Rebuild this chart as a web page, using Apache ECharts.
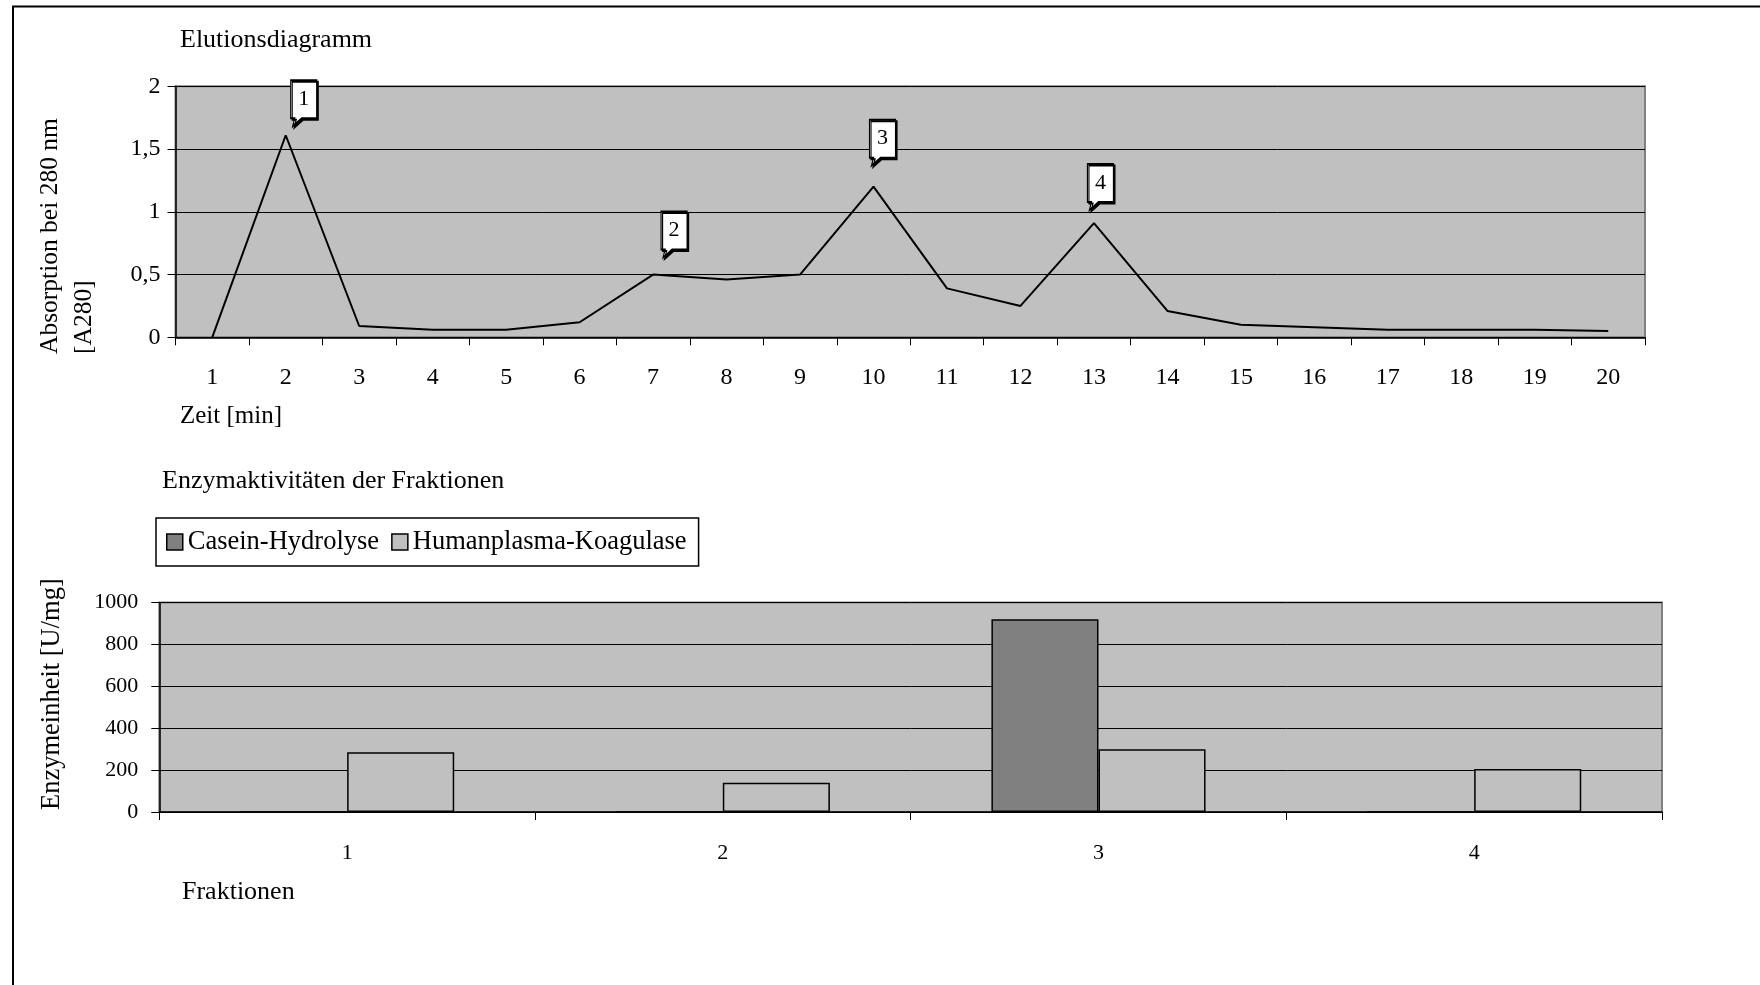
<!DOCTYPE html>
<html>
<head>
<meta charset="utf-8">
<title>Elutionsdiagramm</title>
<script src="https://cdn.jsdelivr.net/npm/echarts@6/dist/echarts.min.js"></script>
<style>
  html, body { margin: 0; padding: 0; background: #fff; }
  #chart { width: 1760px; height: 985px; }
</style>
</head>
<body>
<div id="chart"></div>
<script>
// Elution profile: time axis (min) and absorption at 280 nm
const times = ['1', '2', '3', '4', '5', '6', '7', '8', '9', '10',
               '11', '12', '13', '14', '15', '16', '17', '18', '19', '20'];
const absorption = [0, 1.61, 0.09, 0.06, 0.06, 0.12, 0.5, 0.46, 0.5, 1.2,
                    0.39, 0.25, 0.91, 0.21, 0.1, 0.08, 0.06, 0.06, 0.06, 0.05];

// Numbered peaks (collected fractions) and the time at which each peaks
const peakLabels = ['1', '2', '3', '4'];
const peakTimes = ['2', '7', '10', '13'];

// Enzyme activities per fraction
const fractions = ['1', '2', '3', '4'];
const caseinHydrolyse = [0, 0, 920, 0];
const humanplasmaKoagulase = [285, 140, 300, 205];

const seriesNames = ['Casein-Hydrolyse', 'Humanplasma-Koagulase'];

// Pixel offsets of the callout boxes from their peaks
const calloutOffsets = [[18, -32], [21, -40], [9, -44], [6.5, -36]];

const FONT = '"Liberation Serif", "Times New Roman", serif';
const decimalComma = v => String(v).replace('.', ',');

// Speech-bubble outline: box with a small tail at the lower left
const calloutPath = 'path://M0,0L26,0L26,38L11,38L2,46L4,38L0,38Z';

const peakMarks = peakLabels.map((label, i) => {
  const idx = times.indexOf(peakTimes[i]);
  return {
    name: label,
    value: label,
    coord: [idx, absorption[idx]],
    symbolOffset: calloutOffsets[i]
  };
});

function freeText(text, x, y, size, rotate, lineHeight) {
  return {
    type: 'text',
    x: x,
    y: y,
    rotation: rotate ? Math.PI / 2 : 0,
    z: 10,
    style: {
      text: text,
      fill: '#000',
      fontSize: size,
      fontFamily: FONT,
      lineHeight: lineHeight || size + 4,
      align: 'left',
      verticalAlign: 'middle'
    }
  };
}

const chart = echarts.init(document.getElementById('chart'), null, { renderer: 'canvas' });

const option = {
  backgroundColor: '#ffffff',
  animation: false,
  textStyle: { fontFamily: FONT, color: '#000' },
  graphic: [
    {
      type: 'rect',
      z: -10,
      shape: { x: 13, y: 6.5, width: 1800, height: 1100 },
      style: { fill: 'none', stroke: '#000', lineWidth: 2 }
    },
    freeText('Elutionsdiagramm', 180, 40, 26),
    freeText('Absorption bei 280 nm\n[A280]', 67, 354, 25.5, true, 34),
    freeText('Zeit [min]', 180, 416, 25),
    freeText('Enzymaktivitäten der Fraktionen', 162, 481, 26),
    freeText('Enzymeinheit [U/mg]', 52, 810, 26.5, true),
    freeText('Fraktionen', 182, 892, 26)
  ],
  legend: {
    data: seriesNames,
    left: 156,
    top: 518,
    orient: 'horizontal',
    backgroundColor: '#ffffff',
    borderColor: '#000',
    borderWidth: 1.5,
    borderRadius: 0,
    padding: [10, 12, 10, 10],
    itemWidth: 16,
    itemHeight: 16,
    itemGap: 12,
    icon: 'rect',
    itemStyle: { borderColor: '#000', borderWidth: 1.5 },
    textStyle: { fontSize: 26.5, fontFamily: FONT, color: '#000', lineHeight: 28 }
  },
  grid: [
    {
      left: 175.5, top: 86.3, width: 1645 - 175.5, height: 251,
      show: true, backgroundColor: '#C0C0C0', borderColor: '#808080', borderWidth: 2,
      containLabel: false
    },
    {
      left: 159.3, top: 602.5, width: 1662 - 159.3, height: 209.5,
      show: true, backgroundColor: '#C0C0C0', borderColor: '#808080', borderWidth: 2,
      containLabel: false
    }
  ],
  xAxis: [
    {
      type: 'category',
      gridIndex: 0,
      data: times,
      boundaryGap: true,
      axisLine: { show: true, lineStyle: { color: '#000', width: 1.5 } },
      axisTick: { show: true, alignWithLabel: false, interval: 0, length: 8, lineStyle: { color: '#000', width: 1 } },
      axisLabel: { interval: 0, margin: 28, fontSize: 24, fontFamily: FONT, color: '#000' },
      splitLine: { show: false }
    },
    {
      type: 'category',
      gridIndex: 1,
      data: fractions,
      boundaryGap: true,
      axisLine: { show: true, lineStyle: { color: '#000', width: 1.5 } },
      axisTick: { show: true, alignWithLabel: false, interval: 0, length: 8, lineStyle: { color: '#000', width: 1 } },
      axisLabel: { interval: 0, margin: 30, fontSize: 22, fontFamily: FONT, color: '#000' },
      splitLine: { show: false }
    }
  ],
  yAxis: [
    {
      type: 'value',
      gridIndex: 0,
      min: 0, max: 2, interval: 0.5,
      axisLine: { show: true, lineStyle: { color: '#000', width: 1.5 } },
      axisTick: { show: true, length: 8, lineStyle: { color: '#000', width: 1 } },
      axisLabel: { margin: 15, fontSize: 24, fontFamily: FONT, color: '#000', formatter: decimalComma },
      splitLine: { show: true, lineStyle: { color: '#000', width: 1 } }
    },
    {
      type: 'value',
      gridIndex: 1,
      min: 0, max: 1000, interval: 200,
      axisLine: { show: true, lineStyle: { color: '#000', width: 1.5 } },
      axisTick: { show: true, length: 8, lineStyle: { color: '#000', width: 1 } },
      axisLabel: { margin: 21, fontSize: 22, fontFamily: FONT, color: '#000', formatter: v => String(v) },
      splitLine: { show: true, lineStyle: { color: '#000', width: 1 } }
    }
  ],
  series: [
    {
      name: 'Absorption',
      type: 'line',
      xAxisIndex: 0,
      yAxisIndex: 0,
      data: absorption,
      symbol: 'none',
      lineStyle: { color: '#000', width: 2 },
      itemStyle: { color: '#000' },
      z: 5,
      markPoint: {
        symbol: calloutPath,
        symbolSize: [26, 46],
        symbolKeepAspect: false,
        itemStyle: {
          color: '#ffffff',
          borderColor: '#000',
          borderWidth: 1.5,
          shadowColor: '#000',
          shadowOffsetX: 1.5,
          shadowOffsetY: 1.5,
          shadowBlur: 0
        },
        label: {
          show: true,
          position: 'inside',
          offset: [0, -4],
          formatter: '{c}',
          color: '#000',
          fontSize: 22,
          fontFamily: FONT
        },
        data: peakMarks
      }
    },
    {
      name: seriesNames[0],
      type: 'bar',
      xAxisIndex: 1,
      yAxisIndex: 1,
      data: caseinHydrolyse,
      barGap: '0%',
      barCategoryGap: '43%',
      itemStyle: { color: '#808080', borderColor: '#000', borderWidth: 1.5 }
    },
    {
      name: seriesNames[1],
      type: 'bar',
      xAxisIndex: 1,
      yAxisIndex: 1,
      data: humanplasmaKoagulase,
      barGap: '0%',
      barCategoryGap: '43%',
      itemStyle: { color: '#C0C0C0', borderColor: '#000', borderWidth: 1.5 }
    }
  ]
};

chart.setOption(option);
</script>
</body>
</html>
